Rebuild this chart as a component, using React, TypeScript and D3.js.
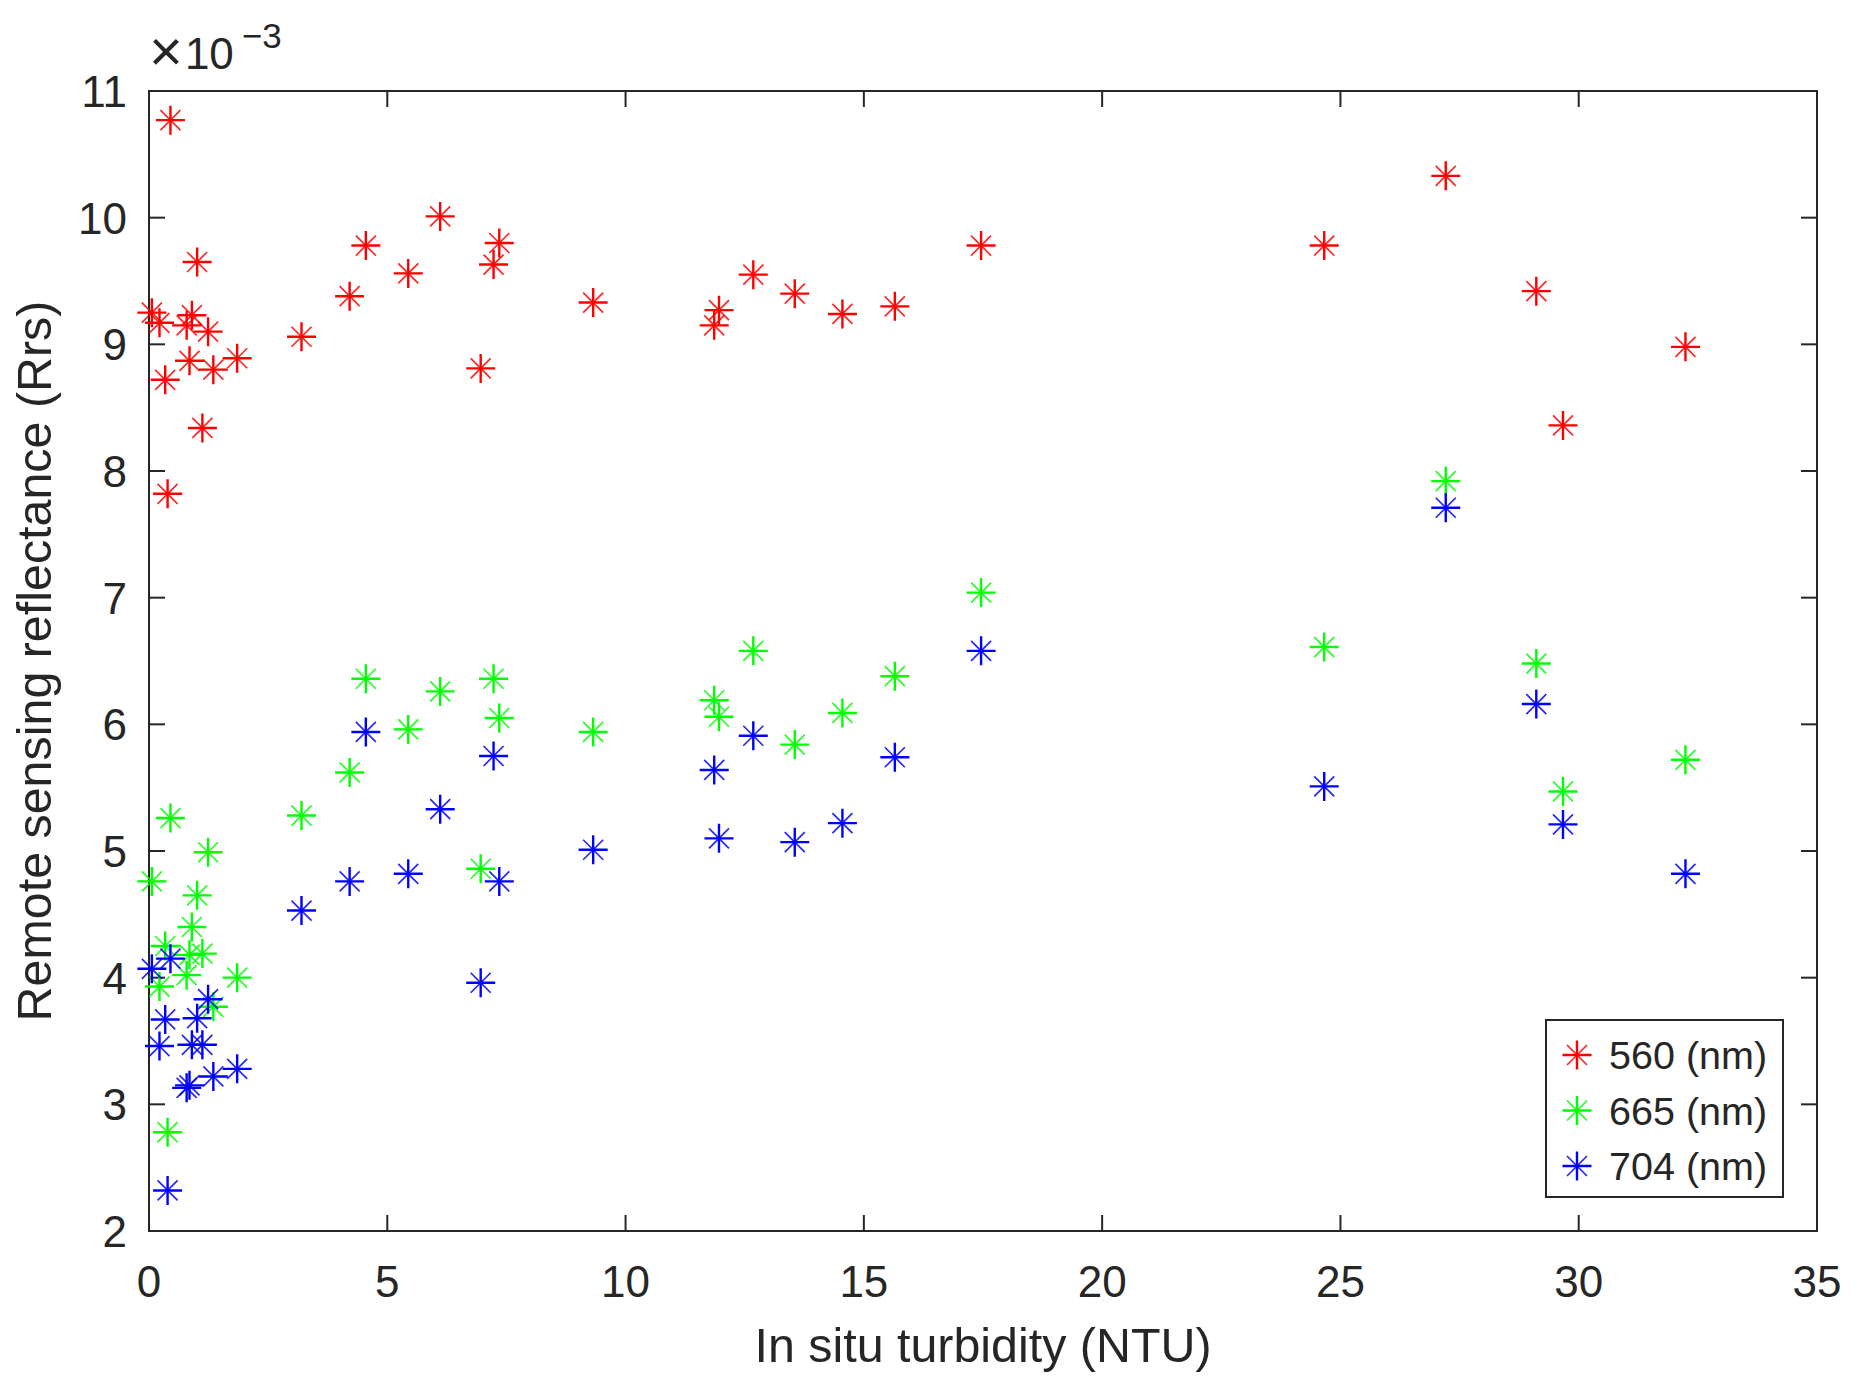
import React from "react";
import * as d3 from "d3";

// In situ turbidity (NTU) per station
const turbidity = [
  0.06, 0.22, 0.34, 0.39, 0.45, 0.79, 0.85, 0.9, 1.01, 1.12, 1.24, 1.35, 1.85,
  3.2, 4.21, 4.55, 5.44, 6.11, 6.96, 7.23, 7.35, 9.32, 11.86, 11.96, 12.68,
  13.55, 14.55, 15.65, 17.46, 24.66, 27.21, 29.11, 29.67, 32.24,
];
// Remote sensing reflectance, in units of 1e-3
const rrs560 = [
  9.25, 9.17, 8.72, 7.82, 10.77, 9.15, 8.87, 9.23, 9.65, 8.34, 9.1, 8.8, 8.89,
  9.06, 9.38, 9.78, 9.56, 10.01, 8.81, 9.63, 9.8, 9.33, 9.15, 9.27, 9.55, 9.4,
  9.24, 9.3, 9.78, 9.78, 10.33, 9.42, 8.36, 8.98,
];
const rrs665 = [
  4.76, 3.93, 4.25, 2.78, 5.26, 4.02, 4.18, 4.4, 4.65, 4.19, 4.99, 3.77, 4.0,
  5.28, 5.62, 6.36, 5.96, 6.26, 4.86, 6.36, 6.05, 5.94, 6.19, 6.06, 6.58, 5.84,
  6.09, 6.38, 7.04, 6.61, 7.92, 6.48, 5.47, 5.72,
];
const rrs704 = [
  4.07, 3.46, 3.67, 2.32, 4.15, 3.13, 3.15, 3.47, 3.68, 3.47, 3.83, 3.22, 3.28,
  4.53, 4.76, 5.94, 4.82, 5.33, 3.96, 5.75, 4.76, 5.01, 5.64, 5.1, 5.91, 5.07,
  5.22, 5.74, 6.58, 5.51, 7.71, 6.16, 5.21, 4.82,
];
const seriesNames = ["560 (nm)", "665 (nm)", "704 (nm)"];
const seriesColors = ["#ff0000", "#00ff00", "#0000ff"];
const xTicks = [0, 5, 10, 15, 20, 25, 30, 35];
const yTicks = [2, 3, 4, 5, 6, 7, 8, 9, 10, 11];

const W = 1860;
const H = 1389;
const L = 149;
const R = 1817;
const T = 91;
const B = 1231;
const AX = "#262626";
const FONT = "Arial, 'Liberation Sans', Helvetica, sans-serif";

const Star = ({ x, y, c }: { x: number; y: number; c: string }) => {
  const a = 14.5;
  const d = 10;
  return (
    <g transform={`translate(${x},${y})`}>
      <path d={`M${-a},0H${a}M0,${-a}V${a}`} stroke={c} strokeWidth={2.4} fill="none" />
      <path
        d={`M${-d},${-d}L${d},${d}M${-d},${d}L${d},${-d}`}
        stroke={c}
        strokeWidth={1.7}
        strokeOpacity={0.85}
        fill="none"
      />
    </g>
  );
};

export default function App() {
  const x = d3.scaleLinear().domain([0, 35]).range([L, R]);
  const y = d3.scaleLinear().domain([2, 11]).range([B, T]);
  const series = [rrs560, rrs665, rrs704];
  const tickLen = 16;

  return (
    <svg
      width={W}
      height={H}
      viewBox={`0 0 ${W} ${H}`}
      style={{ position: "absolute", left: 0, top: 0, background: "#fff" }}
      fontFamily={FONT}
    >
      <rect x={0} y={0} width={W} height={H} fill="#fff" />
      {/* ticks */}
      {xTicks.map((t) => (
        <g key={"xt" + t}>
          <line x1={x(t)} x2={x(t)} y1={B} y2={B - tickLen} stroke={AX} strokeWidth={2} />
          <line x1={x(t)} x2={x(t)} y1={T} y2={T + tickLen} stroke={AX} strokeWidth={2} />
          <text x={x(t)} y={1297} fontSize={44} fill={AX} textAnchor="middle">
            {t}
          </text>
        </g>
      ))}
      {yTicks.map((t) => (
        <g key={"yt" + t}>
          <line x1={L} x2={L + tickLen} y1={y(t)} y2={y(t)} stroke={AX} strokeWidth={2} />
          <line x1={R} x2={R - tickLen} y1={y(t)} y2={y(t)} stroke={AX} strokeWidth={2} />
          <text x={127} y={y(t) + 16} fontSize={44} fill={AX} textAnchor="end">
            {t}
          </text>
        </g>
      ))}
      <rect x={L} y={T} width={R - L} height={B - T} fill="none" stroke={AX} strokeWidth={2} />
      {/* exponent */}
      <text x={149} y={69} fontSize={44} fill={AX}>
        <tspan fontSize={58} dy={2}>×</tspan>
        <tspan dx={2} dy={-2}>10</tspan>
        <tspan fontSize={35} dx={8} dy={-21}>
          −3
        </tspan>
      </text>
      {/* axis labels */}
      <text x={(L + R) / 2} y={1362} fontSize={48.4} fill={AX} textAnchor="middle">
        In situ turbidity (NTU)
      </text>
      <text
        transform={`translate(51,${(T + B) / 2}) rotate(-90)`}
        fontSize={48.4}
        fill={AX}
        textAnchor="middle"
      >
        Remote sensing reflectance (Rrs)
      </text>
      {/* data */}
      {series.map((s, si) => (
        <g key={"s" + si}>
          {s.map((v, i) => (
            <Star key={i} x={x(turbidity[i])} y={y(v)} c={seriesColors[si]} />
          ))}
        </g>
      ))}
      {/* legend */}
      <rect x={1546} y={1020} width={237} height={177} fill="#fff" stroke={AX} strokeWidth={2} />
      {seriesNames.map((n, i) => {
        const ly = 1055 + i * 55.5;
        return (
          <g key={"lg" + i}>
            <Star x={1577} y={ly} c={seriesColors[i]} />
            <text x={1609} y={ly + 14} fontSize={39.5} fill={AX}>
              {n}
            </text>
          </g>
        );
      })}
    </svg>
  );
}
